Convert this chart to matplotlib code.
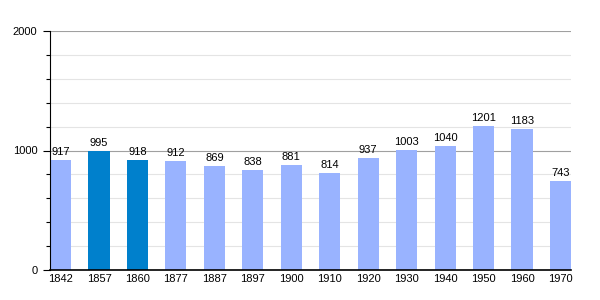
import numpy as np
import matplotlib
matplotlib.use("Agg")
import matplotlib.pyplot as plt

years = ["1842", "1857", "1860", "1877", "1887", "1897", "1900",
         "1910", "1920", "1930", "1940", "1950", "1960", "1970"]
population = [917, 995, 918, 912, 869, 838, 881,
              814, 937, 1003, 1040, 1201, 1183, 743]
highlighted = ["1857", "1860"]

plt.rcParams['font.family'] = ['Liberation Sans', 'DejaVu Sans']

fig = plt.figure(figsize=(6, 3), dpi=100)
ax = fig.add_axes([50 / 600, 30 / 300, 521 / 600, 239 / 300])

x = np.arange(len(years))
width = 0.55
colors = ["#0080cc" if y in highlighted else "#99b3ff" for y in years]
ax.bar(x, population, width=width, color=colors, zorder=2)

for xi, v in zip(x, population):
    ax.text(xi, v + 25, str(v), ha="center", va="bottom", fontsize=8, zorder=3)

ax.set_xlim(-width / 2, len(years) - 1 + width / 2)
ax.set_ylim(0, 2000)
ax.set_xticks(x)
ax.set_xticklabels(years, fontsize=8)
ax.set_yticks([0, 1000, 2000])
ax.set_yticklabels(["0", "1000", "2000"], fontsize=8)
ax.set_yticks(np.arange(0, 2001, 200), minor=True)

ax.grid(axis="y", which="major", color="#a0a0a0", linewidth=0.8, zorder=0)
ax.grid(axis="y", which="minor", color="#e4e4e4", linewidth=0.8, zorder=0)
ax.tick_params(axis="x", length=0, pad=3)
ax.tick_params(axis="y", which="major", length=5, width=0.8, pad=4)
ax.tick_params(axis="y", which="minor", length=3, width=0.8)

for s in ["top", "right"]:
    ax.spines[s].set_visible(False)
ax.spines["left"].set_linewidth(0.8)
ax.spines["bottom"].set_linewidth(1.2)

fig.savefig("out.png", dpi=100)
